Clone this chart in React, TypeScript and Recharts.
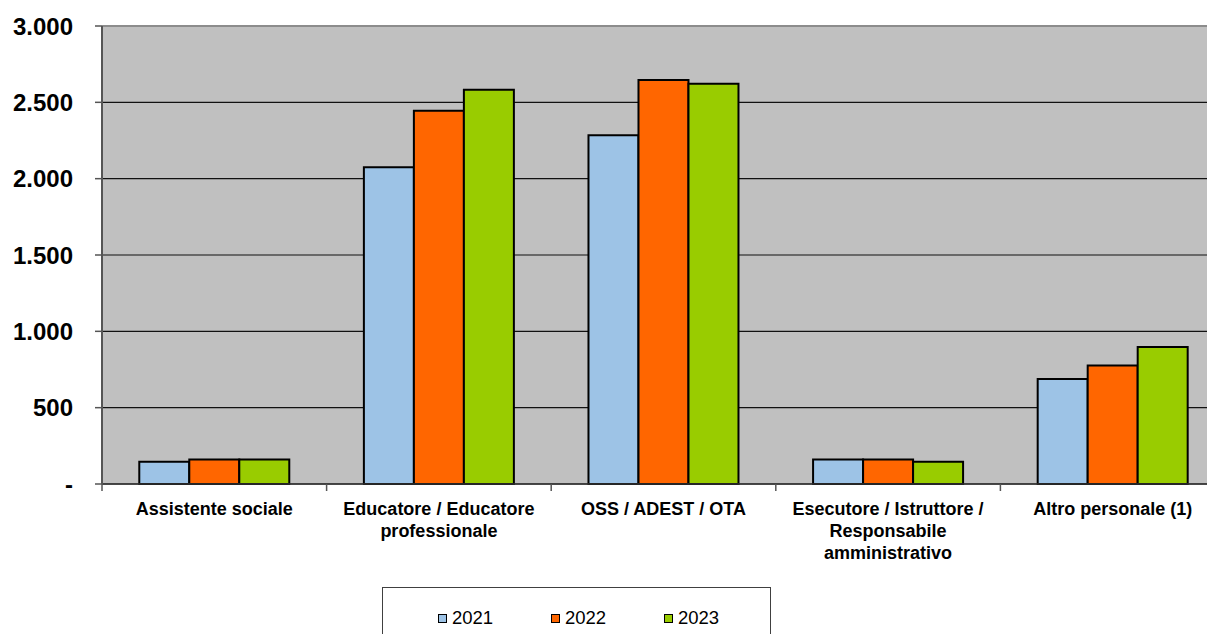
import React from "react";
import { BarChart, Bar, XAxis, YAxis, CartesianGrid, ReferenceLine, Text } from "recharts";

const categories = [
  "Assistente sociale",
  "Educatore / Educatore professionale",
  "OSS / ADEST / OTA",
  "Esecutore / Istruttore / Responsabile amministrativo",
  "Altro personale (1)",
];
const series2021 = [145, 2075, 2284, 160, 687];
const series2022 = [160, 2445, 2646, 160, 777];
const series2023 = [160, 2582, 2622, 145, 897];
const years = ["2021", "2022", "2023"];
const yTicks = [0, 500, 1000, 1500, 2000, 2500, 3000];

const colors = ["#9DC3E6", "#FF6600", "#99CC00"];
const FONT = "'Liberation Sans', Arial, sans-serif";

const data = categories.map((c, i) => ({
  name: c,
  "2021": series2021[i],
  "2022": series2022[i],
  "2023": series2023[i],
}));

const CHART_W = 1240;
const CHART_H = 634;
const BOX_H = 640;
const M = { top: 18, right: 23, bottom: 98, left: 0 };
const Y_W = 94;
const PLOT_W = CHART_W - M.left - M.right - Y_W;
const BAND = PLOT_W / categories.length;

const fmt = (v: number) => (v === 0 ? "-" : v.toLocaleString("de-DE"));

const labelStyle = { fontFamily: FONT, fontWeight: "bold", fontSize: 18 };

const XTick = (props: any) => {
  const { x, y, payload } = props;
  return (
    <g>
      <line x1={x - BAND / 2} x2={x - BAND / 2} y1={y} y2={y + 7} stroke="#555" strokeWidth={1.5} />
      <Text
        x={x}
        y={y + 18}
        width={200}
        textAnchor="middle"
        verticalAnchor="start"
        lineHeight={22}
        style={labelStyle}
        fontFamily={FONT}
        fontWeight="bold"
        fontSize={18}
        fill="#000"
      >
        {payload.value}
      </Text>
    </g>
  );
};

const LegendBox = () => (
  <div
    style={{
      boxSizing: "border-box",
      position: "absolute",
      left: 374,
      top: 579,
      width: 389,
      height: 90,
      border: "1px solid #404040",
      background: "#fff",
      fontFamily: FONT,
    }}
  >
    {years.map((yr, i) => (
      <div
        key={yr}
        style={{
          position: "absolute",
          left: 55 + i * 113,
          top: 19,
          display: "flex",
          alignItems: "center",
          fontSize: 18.5,
          color: "#000",
          lineHeight: "22px",
        }}
      >
        <span
          style={{
            display: "inline-block",
            width: 7,
            height: 7,
            border: "1.5px solid #000",
            background: colors[i],
            marginRight: 5,
          }}
        />
        {yr}
      </div>
    ))}
  </div>
);

export default function App() {
  return (
    <div style={{ width: 1207, height: BOX_H, overflow: "hidden", position: "relative", marginBottom: -14 }}>
      <BarChart
        width={CHART_W}
        height={CHART_H}
        data={data}
        margin={M}
        barCategoryGap="16.6%"
        barGap={0}
      >
        <CartesianGrid vertical={false} stroke="#111" strokeWidth={1.2} fill="#C0C0C0" fillOpacity={1} />
        <XAxis
          dataKey="name"
          height={60}
          tickSize={0}
          tickMargin={0}
          tickLine={false}
          interval={0}
          axisLine={{ stroke: "#333", strokeWidth: 1.5 }}
          tick={<XTick />}
        />
        <YAxis
          width={Y_W}
          domain={[0, 3000]}
          ticks={yTicks}
          interval={0}
          tickSize={7}
          tickMargin={22}
          tickFormatter={fmt}
          axisLine={{ stroke: "#555", strokeWidth: 2 }}
          tickLine={{ stroke: "#555", strokeWidth: 1.5 }}
          tick={{ fontFamily: FONT, fontWeight: "bold", fontSize: 24, fill: "#000" }}
        />
        <ReferenceLine y={3000} stroke="#8c8c8c" strokeWidth={2} />
        {years.map((yr, i) => (
          <Bar
            key={yr}
            dataKey={yr}
            fill={colors[i]}
            stroke="#000"
            strokeWidth={2}
            isAnimationActive={false}
          />
        ))}
      </BarChart>
      <LegendBox />
    </div>
  );
}
